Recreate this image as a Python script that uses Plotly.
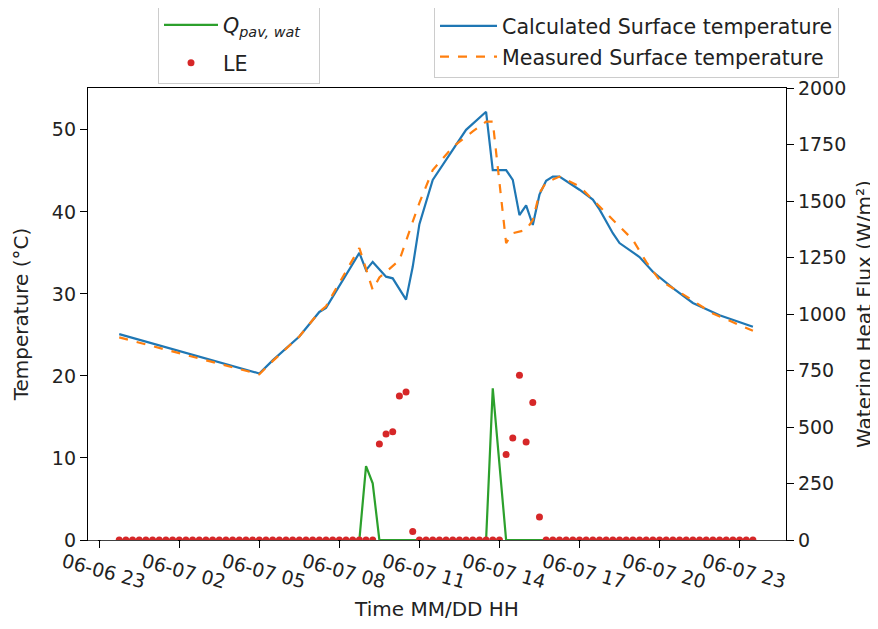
import plotly.graph_objects as go
import pandas as pd

# ---------------- data ----------------
BASE = pd.Timestamp("2021-06-07 00:00")

# Calculated surface temperature (hours after 06-07 00:00, degC)
calc_hours = [-0.25, 5.0, 5.5, 6.5, 7.25, 7.5, 8.75, 9.0, 9.25, 9.75, 10.0, 10.5,
              10.75, 11.0, 11.5, 12.25, 12.75, 13.5, 13.75, 14.25, 14.5, 14.75,
              15.0, 15.25, 15.5, 15.75, 16.0, 16.25, 17.0, 17.5, 17.75, 18.25,
              18.5, 19.25, 19.75, 20.5, 21.25, 22.25, 23.5]
calc_temp = [25.1, 20.3, 21.9, 24.8, 27.8, 28.3, 35.0, 32.9, 33.9, 32.1, 31.9, 29.3,
             33.3, 38.5, 43.9, 47.6, 50.0, 52.2, 45.1, 45.1, 43.9, 39.6,
             40.8, 38.4, 42.1, 43.8, 44.3, 44.3, 42.7, 41.5, 40.3, 37.4,
             36.2, 34.5, 32.7, 30.7, 28.9, 27.4, 26.0]

# Measured surface temperature
meas_hours = [-0.25, 5.0, 5.5, 6.5, 7.25, 7.5, 8.75, 9.25, 9.5, 10.25, 10.75, 11.0,
              11.5, 12.25, 13.0, 13.5, 13.75, 14.25, 14.5, 15.0, 15.25, 15.5,
              15.75, 16.25, 17.0, 17.5, 18.25, 19.0, 19.5, 20.0, 21.0, 22.0, 23.5]
meas_temp = [24.7, 20.2, 21.8, 24.8, 27.8, 28.5, 35.6, 30.5, 32.0, 34.1, 38.8, 41.1,
             45.1, 47.9, 49.8, 51.0, 51.0, 36.2, 37.4, 37.8, 39.0, 42.3,
             43.6, 44.3, 43.1, 41.5, 39.0, 36.6, 33.9, 31.7, 29.7, 27.6, 25.5]

# Quarter-hour grid from 06-06 23:45 to 06-07 23:30 (96 samples)
flux_times = pd.date_range("2021-06-06 23:45", "2021-06-07 23:30", freq="15min")

# Watering heat flux Q_pav,wat (W/m2)
q_pav_wat = [0, 0, 0, 0, 0, 0, 0, 0, 0, 0, 0, 0, 0, 0, 0, 0,
             0, 0, 0, 0, 0, 0, 0, 0, 0, 0, 0, 0, 0, 0, 0, 0,
             0, 0, 0, 0, 0, 327, 251, 0, 0, 0, 0, 0, 0, 0, 0, 0,
             0, 0, 0, 0, 0, 0, 0, 0, 671, 340, 0, 0, 0, 0, 0, 0,
             0, 0, 0, 0, 0, 0, 0, 0, 0, 0, 0, 0, 0, 0, 0, 0,
             0, 0, 0, 0, 0, 0, 0, 0, 0, 0, 0, 0, 0, 0, 0, 0]

# Latent heat LE (W/m2)
le_flux = [0, 0, 0, 0, 0, 0, 0, 0, 0, 0, 0, 0, 0, 0, 0, 0,
           0, 0, 0, 0, 0, 0, 0, 0, 0, 0, 0, 0, 0, 0, 0, 0,
           0, 0, 0, 0, 0, 0, 0, 425, 469, 479, 637, 655, 38, 0, 0, 0,
           0, 0, 0, 0, 0, 0, 0, 0, 0, 0, 378, 451, 729, 434, 608, 102,
           0, 0, 0, 0, 0, 0, 0, 0, 0, 0, 0, 0, 0, 0, 0, 0,
           0, 0, 0, 0, 0, 0, 0, 0, 0, 0, 0, 0, 0, 0, 0, 0]

tick_times = ["2021-06-06 23:00", "2021-06-07 02:00", "2021-06-07 05:00",
              "2021-06-07 08:00", "2021-06-07 11:00", "2021-06-07 14:00",
              "2021-06-07 17:00", "2021-06-07 20:00", "2021-06-07 23:00"]
tick_labels = ["06-06 23", "06-07 02", "06-07 05", "06-07 08", "06-07 11",
               "06-07 14", "06-07 17", "06-07 20", "06-07 23"]

# ---------------- figure ----------------
def to_time(hours):
    return [BASE + pd.Timedelta(hours=h) for h in hours]

FONT = "DejaVu Sans"
FS = 19
FT = 20
FL = 20.6
TXT = "#222222"

# page body margin offset (8 px) compensated in margins
L, T, R, B = 80, 80, 100, 97
PX0, PX1, PY0, PY1 = 88, 786, 88, 540   # target plot area on screen

X_START = BASE + pd.Timedelta(hours=-1.42)
X_END = BASE + pd.Timedelta(hours=24.74)

fig = go.Figure()
fig.add_trace(go.Scatter(x=flux_times, y=q_pav_wat, mode="lines", yaxis="y",
                         name="<i>Q</i><sub><i>pav, wat</i></sub>&nbsp;&nbsp;", legendgroup="c",
                         line=dict(color="#2ca02c", width=2.2), legend="legend"))
fig.add_trace(go.Scatter(x=flux_times, y=le_flux, mode="markers", yaxis="y",
                         name="LE", legendgroup="d", cliponaxis=True,
                         marker=dict(color="#d62728", size=7),
                         legend="legend"))
fig.add_trace(go.Scatter(x=to_time(calc_hours), y=calc_temp, mode="lines", yaxis="y2",
                         name="Calculated Surface temperature", legendgroup="a",
                         line=dict(color="#1f77b4", width=2.2), legend="legend2"))
fig.add_trace(go.Scatter(x=to_time(meas_hours), y=meas_temp, mode="lines", yaxis="y2",
                         name="Measured Surface temperature", legendgroup="b",
                         line=dict(color="#ff7f0e", width=2.2, dash="dash"),
                         legend="legend2"))

axis_common = dict(showgrid=False, zeroline=False, showline=True, linecolor="black",
                   linewidth=1.3, ticks="outside", ticklen=7, tickwidth=1.3,
                   tickcolor="black", automargin=False,
                   tickfont=dict(family=FONT, size=FS, color=TXT))

def px_x(x):
    return (x - PX0) / (PX1 - PX0)

def px_y(y):
    return (PY1 - y) / (PY1 - PY0)

plot_h = PY1 - PY0
px_per_hour = (PX1 - PX0) / ((X_END - X_START) / pd.Timedelta(hours=1))
gap = pd.Timedelta(hours=1.3 / px_per_hour)

# white masks just below the bottom spine (between ticks), so that the
# zero-valued markers look clipped by the axes as in the original
edges = [X_START] + [pd.Timestamp(t) for t in tick_times] + [X_END]
mask_shapes = []
for a, b in zip(edges[:-1], edges[1:]):
    x0 = a if a == X_START else a + gap
    x1 = b if b == X_END else b - gap
    mask_shapes.append(dict(type="rect", xref="x", yref="paper", layer="above",
                            x0=x0, x1=x1, y0=-4.8 / plot_h, y1=-0.7 / plot_h,
                            fillcolor="white", line=dict(width=0)))

fig.update_layout(
    width=878, height=629,
    margin=dict(l=L, r=R, t=T, b=B, autoexpand=False),
    paper_bgcolor="white", plot_bgcolor="white",
    font=dict(family=FONT, size=FS, color=TXT),
    xaxis=dict(**axis_common, type="date", mirror=True,
               range=[X_START, X_END],
               tickvals=tick_times, ticktext=tick_labels, tickangle=15,
               ticklabelshift=-36, ticklabelstandoff=-4,
               title=dict(text="Time MM/DD HH", font=dict(family=FONT, size=FT, color=TXT),
                          standoff=10)),
    yaxis=dict(**axis_common, side="right", range=[0, 2000],
               tickvals=[0, 250, 500, 750, 1000, 1250, 1500, 1750, 2000],
               title=dict(text="Watering Heat Flux (W/m²)",
                          font=dict(family=FONT, size=FT, color=TXT), standoff=11)),
    yaxis2=dict(**axis_common, overlaying="y", side="left", range=[0, 55.1],
                tickvals=[0, 10, 20, 30, 40, 50],
                title=dict(text="Temperature (°C)", font=dict(family=FONT, size=FT, color=TXT),
                           standoff=17)),
    showlegend=True,
    legend=dict(x=px_x(158), y=px_y(4), xanchor="left", yanchor="top",
                bgcolor="white", bordercolor="#cccccc", borderwidth=1,
                traceorder="grouped", tracegroupgap=8,
                font=dict(family=FONT, size=FL, color=TXT), itemwidth=54),
    legend2=dict(x=px_x(434), y=px_y(5), xanchor="left", yanchor="top",
                 bgcolor="white", bordercolor="#cccccc", borderwidth=1,
                 traceorder="grouped", tracegroupgap=1,
                 font=dict(family=FONT, size=FL, color=TXT), itemwidth=57),
    shapes=mask_shapes,
)

fig.write_html("out.html")
